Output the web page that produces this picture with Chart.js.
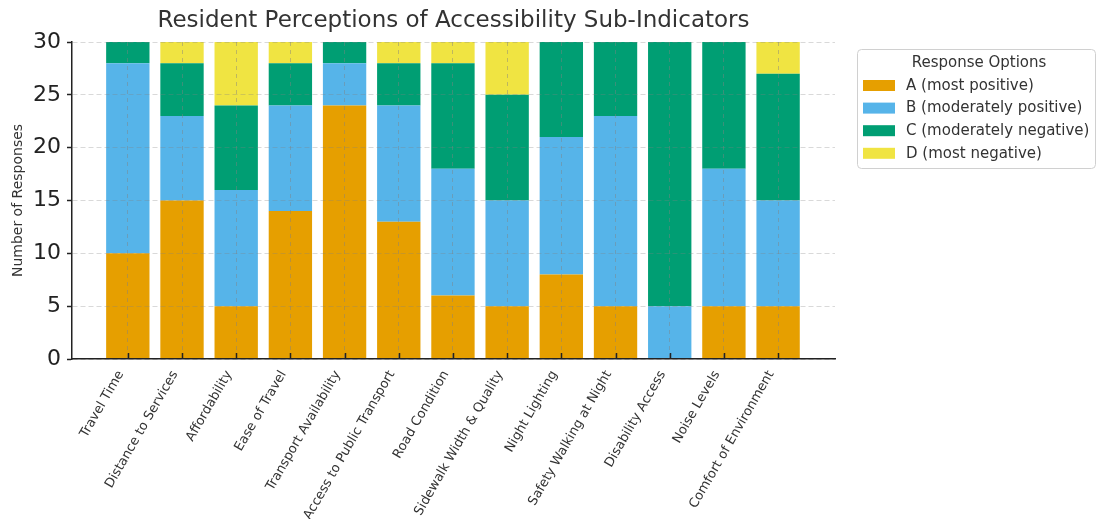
<!DOCTYPE html>
<html>
<head>
<meta charset="utf-8">
<script src="https://cdn.jsdelivr.net/npm/chart.js@4"></script>
<style>
  body { margin: 0; background: #fff; }
  #wrap { width: 1097px; height: 519px; }
</style>
</head>
<body>
<div id="wrap"><canvas id="perceptionChart"></canvas></div>
<script>
const categories = [
    'Travel Time', 'Distance to Services', 'Affordability', 'Ease of Travel',
    'Transport Availability', 'Access to Public Transport', 'Road Condition',
    'Sidewalk Width & Quality', 'Night Lighting', 'Safety Walking at Night',
    'Disability Access', 'Noise Levels', 'Comfort of Environment'
];
const optionLabels = ['A (most positive)', 'B (moderately positive)', 'C (moderately negative)', 'D (most negative)'];
const optionColors = ['#E69F00', '#56B4E9', '#009E73', '#F0E442'];

const countsA = [10, 15, 5, 14, 24, 13, 6, 5, 8, 5, 0, 5, 5];
const countsB = [18, 8, 11, 10, 4, 11, 12, 10, 13, 18, 5, 13, 10];
const countsC = [2, 5, 8, 4, 2, 4, 10, 10, 9, 7, 25, 12, 12];
const countsD = [0, 2, 6, 2, 0, 2, 2, 5, 0, 0, 0, 0, 3];
const yTicks = [0, 5, 10, 15, 20, 25, 30];

const chartTitle = 'Resident Perceptions of Accessibility Sub-Indicators';
const legendTitle = 'Response Options';

const FONT = "'DejaVu Sans', sans-serif";
const allCounts = [countsA, countsB, countsC, countsD];

const datasets = allCounts.map((counts, k) => ({
    label: optionLabels[k],
    data: counts.map((v, i) => ({ x: i, y: v })),
    backgroundColor: optionColors[k],
    borderWidth: 0,
    barPercentage: 0.8,
    categoryPercentage: 1.0
}));

// title over the plot area, inward x tick marks, boxed legend on the right
const decorations = {
    id: 'decorations',
    afterDraw(chart) {
        const ctx = chart.ctx;
        const area = chart.chartArea;
        const xScale = chart.scales.x;
        ctx.save();
        ctx.fillStyle = '#333';
        ctx.font = '23px ' + FONT;
        ctx.textAlign = 'center';
        ctx.textBaseline = 'middle';
        ctx.fillText(chartTitle, (area.left + area.right) / 2, 21);

        ctx.strokeStyle = '#222';
        ctx.lineWidth = 1.5;
        categories.forEach((_, i) => {
            const px = Math.round(xScale.getPixelForValue(i)) + 0.5;
            ctx.beginPath();
            ctx.moveTo(px, area.bottom);
            ctx.lineTo(px, area.bottom - 6);
            ctx.stroke();
        });

        const x0 = 857, y0 = 49, w = 238, h = 119;
        ctx.fillStyle = 'rgba(255,255,255,0.85)';
        ctx.strokeStyle = '#d0d0d0';
        ctx.lineWidth = 1;
        ctx.beginPath();
        ctx.roundRect(x0 + 0.5, y0 + 0.5, w, h, 4);
        ctx.fill();
        ctx.stroke();

        ctx.fillStyle = '#333';
        ctx.font = '15px ' + FONT;
        ctx.fillText(legendTitle, 979, 63);

        ctx.textAlign = 'left';
        chart.data.datasets.forEach((ds, k) => {
            const cy = 85 + k * 22.6;
            ctx.fillStyle = ds.backgroundColor;
            ctx.fillRect(863, cy - 5, 32, 11);
            ctx.fillStyle = '#333';
            ctx.fillText(ds.label, 906, cy + 1);
        });
        ctx.restore();
    }
};

new Chart(document.getElementById('perceptionChart'), {
    type: 'bar',
    data: { datasets: datasets },
    options: {
        responsive: true,
        maintainAspectRatio: false,
        animation: false,
        layout: { padding: { left: 0, right: 262, top: 42, bottom: 0 } },
        plugins: {
            legend: { display: false },
            tooltip: { enabled: false }
        },
        scales: {
            x: {
                type: 'linear',
                stacked: true,
                offset: false,
                min: -1.03,
                max: 13.05,
                afterBuildTicks(scale) {
                    scale.ticks = categories.map((_, i) => ({ value: i }));
                },
                afterFit(scale) { scale.height = 160; },
                ticks: {
                    autoSkip: false,
                    minRotation: 60,
                    maxRotation: 60,
                    color: '#333',
                    font: { family: FONT, size: 13 },
                    padding: 9,
                    labelOffset: -7,
                    callback: (v) => categories[v]
                },
                grid: {
                    offset: false,
                    z: 1,
                    color: 'rgba(128,128,128,0.45)',
                    drawTicks: false
                },
                border: { display: true, color: '#222', width: 1.5, dash: [4, 4], z: 2 }
            },
            y: {
                stacked: true,
                min: 0,
                max: 30,
                afterBuildTicks(scale) {
                    scale.ticks = yTicks.map(v => ({ value: v }));
                },
                afterFit(scale) { scale.width = 72; },
                ticks: {
                    color: '#222',
                    font: { family: FONT, size: 22 },
                    padding: 6
                },
                grid: {
                    z: 1,
                    color: 'rgba(128,128,128,0.3)',
                    drawTicks: true,
                    tickLength: 5,
                    tickColor: '#222',
                    tickBorderDash: [],
                    tickWidth: 1.5
                },
                border: { display: true, color: '#222', width: 1.5, dash: [5, 3], z: 2 },
                title: {
                    display: true,
                    text: 'Number of Responses',
                    color: '#333',
                    font: { family: FONT, size: 14 },
                    padding: { top: 10, bottom: 0 }
                }
            }
        }
    },
    plugins: [decorations]
});
</script>
</body>
</html>
